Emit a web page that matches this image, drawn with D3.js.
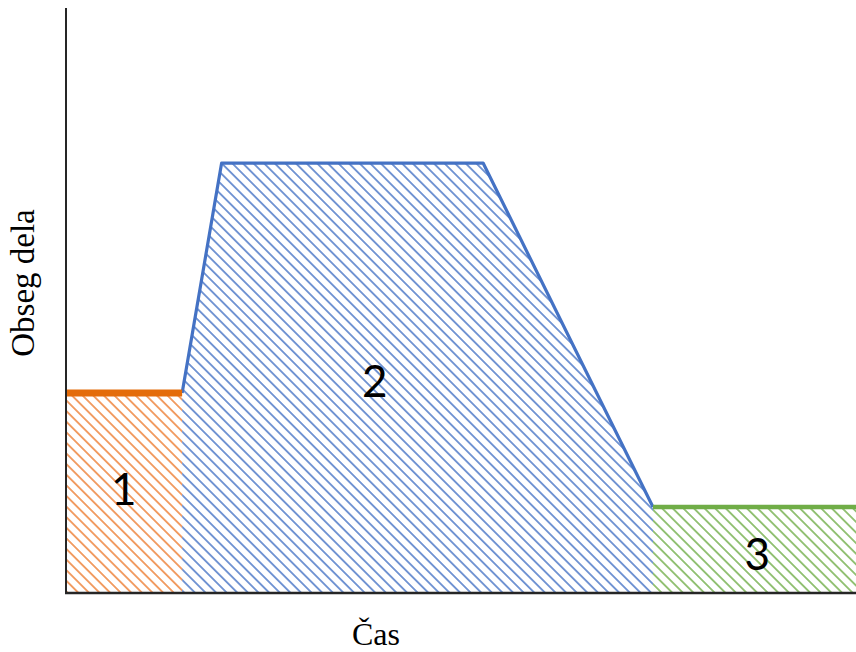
<!DOCTYPE html>
<html>
<head>
<meta charset="utf-8">
<script src="https://cdn.jsdelivr.net/npm/d3@7"></script>
<style>
  html, body { margin: 0; padding: 0; background: #ffffff; }
  svg { display: block; }
</style>
</head>
<body>
<script>
// ---- data (arbitrary units: time 0..100, work volume 0..100) ----
const phaseNames = ["1", "2", "3"];
const phase1Time = [0, 14.7];
const phase1Volume = [34.2, 34.2];
const phase2Time = [14.7, 19.7, 52.8, 74.3];
const phase2Volume = [34.2, 73.5, 73.5, 14.7];
const phase3Time = [74.3, 100];
const phase3Volume = [14.7, 14.7];
const labelTime = [7.3, 39.1, 87.5];
const labelVolume = [17.9, 36.4, 6.8];
const phaseColors = ["#ED7D31", "#4472C4", "#70AD47"];
const outlineColors = ["#E46C0A", "#4472C4", "#70AD47"];
const xTitle = "Čas";
const yTitle = "Obseg dela";

const W = 856, H = 652;
const svg = d3.select("body").append("svg").attr("width", W).attr("height", H);

const x = d3.scaleLinear().domain([0, 100]).range([66, 856]);
const y = d3.scaleLinear().domain([0, 100]).range([593, 8]);

const phases = [
  { t: phase1Time, v: phase1Volume },
  { t: phase2Time, v: phase2Volume },
  { t: phase3Time, v: phase3Volume }
].map((p, i) => ({ name: phaseNames[i], color: phaseColors[i], outline: outlineColors[i],
  pts: p.t.map((t, j) => ({ t, v: p.v[j] })) }));

// hatch patterns
const defs = svg.append("defs");
const gap = 7.5;
phases.forEach((p, i) => {
  const pat = defs.append("pattern")
    .attr("id", "hatch" + i)
    .attr("patternUnits", "userSpaceOnUse")
    .attr("width", gap).attr("height", gap)
    .attr("patternTransform", "rotate(45)");
  pat.append("line")
    .attr("x1", -1).attr("y1", gap / 2).attr("x2", gap + 1).attr("y2", gap / 2)
    .attr("stroke", p.color).attr("stroke-width", 1.7).attr("stroke-opacity", 0.85);
});

const area = d3.area().x(d => x(d.t)).y0(y(0)).y1(d => y(d.v));
const line = d3.line().x(d => x(d.t)).y(d => y(d.v));

const g = svg.append("g");
phases.forEach((p, i) => {
  g.append("path").attr("d", area(p.pts)).attr("fill", `url(#hatch${i})`).attr("stroke", "none");
});

// top outlines
const strokeW = [7, 3.2, 4.5];
[1, 0, 2].forEach(i => {
  g.append("path").attr("d", line(phases[i].pts))
    .attr("fill", "none").attr("stroke", phases[i].outline)
    .attr("stroke-width", strokeW[i]).attr("stroke-linejoin", "round");
});

// phase labels
phases.forEach((p, i) => {
  svg.append("text")
    .attr("x", x(labelTime[i])).attr("y", y(labelVolume[i]))
    .attr("text-anchor", "middle").attr("dominant-baseline", "central")
    .attr("font-family", "Lato, 'Open Sans', sans-serif")
    .attr("font-size", 44).attr("fill", "#000")
    .text(p.name);
});

// axes (no ticks)
svg.append("line").attr("x1", x(0)).attr("x2", x(0)).attr("y1", 8).attr("y2", y(0) + 1)
  .attr("stroke", "#262626").attr("stroke-width", 2);
svg.append("line").attr("x1", x(0) - 1).attr("x2", x(100)).attr("y1", y(0)).attr("y2", y(0))
  .attr("stroke", "#262626").attr("stroke-width", 2.5);

// axis titles
svg.append("text")
  .attr("x", 376).attr("y", 645)
  .attr("text-anchor", "middle")
  .attr("font-family", "'Liberation Serif', 'Times New Roman', serif")
  .attr("font-size", 32).attr("fill", "#000")
  .text(xTitle);
svg.append("text")
  .attr("transform", "translate(34,283) rotate(-90)")
  .attr("text-anchor", "middle")
  .attr("font-family", "'Liberation Serif', 'Times New Roman', serif")
  .attr("font-size", 33).attr("fill", "#000")
  .text(yTitle);
</script>
</body>
</html>
